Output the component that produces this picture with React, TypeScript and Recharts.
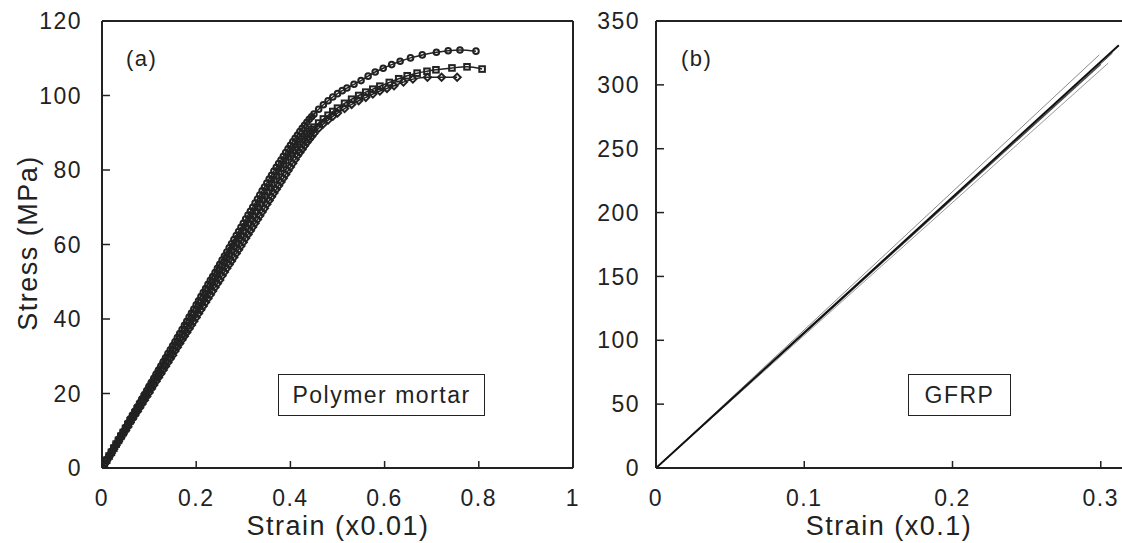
import React from 'react';
import { LineChart, Line, XAxis, YAxis, ReferenceLine } from 'recharts';

// ---- Panel (a): Polymer mortar (strain x0.01, stress MPa) ----
// dense sampling in the (nearly linear) early part, shared by the three specimens
const denseStrain = [
  0, 0.005, 0.01, 0.015, 0.02, 0.025, 0.03, 0.035, 0.04, 0.045,
  0.05, 0.055, 0.06, 0.065, 0.07, 0.075, 0.08, 0.085, 0.09, 0.095,
  0.1, 0.105, 0.11, 0.115, 0.12, 0.125, 0.13, 0.135, 0.14, 0.145,
  0.15, 0.155, 0.16, 0.165, 0.17, 0.175, 0.18, 0.185, 0.19, 0.195,
  0.2, 0.205, 0.21, 0.215, 0.22, 0.225, 0.23, 0.235, 0.24, 0.245,
  0.25, 0.255, 0.26, 0.265, 0.27, 0.275, 0.28, 0.285, 0.29, 0.295,
  0.3, 0.305, 0.31, 0.315, 0.32, 0.325, 0.33, 0.335, 0.34, 0.345,
  0.35, 0.355, 0.36, 0.365, 0.37, 0.375, 0.38, 0.385, 0.39, 0.395,
  0.4, 0.405, 0.41, 0.415, 0.42, 0.425, 0.43, 0.435, 0.44, 0.445, 0.45,
];
const circleDenseStress = [
  0, 1.1, 2.2, 3.3, 4.4, 5.5, 6.5, 7.7, 8.8, 9.8,
  10.9, 12.1, 13.2, 14.2, 15.3, 16.4, 17.5, 18.6, 19.7, 20.8,
  21.9, 23.0, 24.1, 25.2, 26.3, 27.4, 28.5, 29.6, 30.7, 31.7,
  32.8, 33.9, 35.0, 36.1, 37.2, 38.3, 39.4, 40.5, 41.6, 42.7,
  43.8, 44.9, 46.0, 47.1, 48.2, 49.3, 50.4, 51.4, 52.5, 53.6,
  54.7, 55.8, 56.9, 58.0, 59.1, 60.2, 61.3, 62.4, 63.5, 64.6,
  65.7, 66.8, 67.9, 68.9, 70.0, 71.1, 72.2, 73.3, 74.4, 75.4,
  76.5, 77.6, 78.6, 79.7, 80.7, 81.7, 82.7, 83.7, 84.7, 85.7,
  86.6, 87.6, 88.5, 89.4, 90.3, 91.2, 92.0, 92.8, 93.6, 94.3, 95.0,
];
const squareDenseStress = [
  0, 1.0, 2.1, 3.2, 4.2, 5.3, 6.4, 7.4, 8.5, 9.5,
  10.6, 11.7, 12.7, 13.8, 14.8, 15.9, 17.0, 18.0, 19.1, 20.1,
  21.2, 22.3, 23.3, 24.4, 25.4, 26.5, 27.6, 28.6, 29.7, 30.7,
  31.8, 32.9, 33.9, 35.0, 36.0, 37.1, 38.2, 39.2, 40.3, 41.3,
  42.4, 43.5, 44.5, 45.6, 46.6, 47.7, 48.8, 49.8, 50.9, 51.9,
  53.0, 54.1, 55.1, 56.2, 57.2, 58.3, 59.4, 60.4, 61.5, 62.5,
  63.6, 64.7, 65.7, 66.8, 67.8, 68.9, 70.0, 71.0, 72.1, 73.1,
  74.2, 75.3, 76.3, 77.4, 78.4, 79.5, 80.5, 81.5, 82.5, 83.5,
  84.4, 85.3, 86.1, 86.9, 87.6, 88.3, 89.0, 89.7, 90.3, 90.9, 91.5,
];
const diamondDenseStress = [
  0, 1.0, 2.0, 3.0, 4.0, 5.1, 6.1, 7.1, 8.1, 9.1,
  10.1, 11.1, 12.2, 13.2, 14.2, 15.2, 16.2, 17.2, 18.2, 19.2,
  20.2, 21.3, 22.3, 23.3, 24.3, 25.3, 26.3, 27.3, 28.3, 29.3,
  30.3, 31.4, 32.4, 33.4, 34.4, 35.4, 36.4, 37.4, 38.4, 39.4,
  40.4, 41.5, 42.5, 43.5, 44.5, 45.5, 46.5, 47.5, 48.5, 49.5,
  50.5, 51.6, 52.6, 53.6, 54.6, 55.6, 56.6, 57.6, 58.6, 59.6,
  60.6, 61.7, 62.7, 63.7, 64.7, 65.7, 66.7, 67.7, 68.7, 69.7,
  70.8, 71.8, 72.8, 73.8, 74.8, 75.8, 76.8, 77.8, 78.8, 79.8,
  80.8, 81.8, 82.8, 83.8, 84.7, 85.6, 86.5, 87.4, 88.2, 89.0, 89.8,
];

// sparser sampling after the knee
const circleTailStrain = [0.46, 0.47, 0.48, 0.49, 0.5, 0.51, 0.52, 0.535, 0.55, 0.565, 0.58, 0.597, 0.615, 0.633, 0.655, 0.68, 0.71, 0.735, 0.76, 0.794];
const circleTailStress = [96.3, 97.5, 98.6, 99.6, 100.5, 101.3, 102.0, 103.0, 104.0, 105.2, 106.3, 107.3, 108.3, 109.2, 110.1, 110.9, 111.6, 112.0, 112.2, 111.9];
const squareTailStrain = [0.46, 0.47, 0.48, 0.49, 0.5, 0.515, 0.53, 0.545, 0.56, 0.575, 0.59, 0.61, 0.63, 0.648, 0.669, 0.69, 0.709, 0.743, 0.775, 0.807];
const squareTailStress = [92.6, 93.7, 94.7, 95.7, 96.6, 97.9, 99.0, 100.0, 100.9, 101.7, 102.5, 103.5, 104.5, 105.3, 106.0, 106.5, 106.9, 107.4, 107.7, 107.1];
const diamondTailStrain = [0.46, 0.47, 0.48, 0.49, 0.5, 0.515, 0.53, 0.545, 0.56, 0.575, 0.59, 0.605, 0.62, 0.64, 0.66, 0.691, 0.721, 0.754];
const diamondTailStress = [91.2, 92.4, 93.4, 94.4, 95.3, 96.5, 97.6, 98.6, 99.5, 100.4, 101.2, 101.9, 102.6, 103.6, 104.4, 104.9, 104.9, 104.9];

const aStrainTicks = [0, 0.2, 0.4, 0.6, 0.8, 1];
const aStressTicks = [0, 20, 40, 60, 80, 100, 120];

// ---- Panel (b): GFRP (strain x0.1, stress MPa) ----
const gfrp1Strain = [0, 0.3122];
const gfrp1Stress = [0, 331];
const gfrp2Strain = [0, 0.299];
const gfrp2Stress = [0, 323.5];
const gfrp3Strain = [0, 0.305];
const gfrp3Stress = [0, 317];
const gfrp4Strain = [0, 0.3];
const gfrp4Stress = [0, 316];
const gfrp5Strain = [0, 0.308];
const gfrp5Stress = [0, 325];

const bStrainTicks = [0, 0.1, 0.2, 0.3];
const bStressTicks = [0, 50, 100, 150, 200, 250, 300, 350];

const zip = (xs: number[], ys: number[]) => xs.map((x, i) => ({ x, y: ys[i] }));

const circleData = [...zip(denseStrain, circleDenseStress), ...zip(circleTailStrain, circleTailStress)];
const squareData = [...zip(denseStrain, squareDenseStress), ...zip(squareTailStrain, squareTailStress)];
const diamondData = [...zip(denseStrain, diamondDenseStress), ...zip(diamondTailStrain, diamondTailStress)];
const gfrp = [
  { data: zip(gfrp4Strain, gfrp4Stress), color: '#444', w: 1.2 },
  { data: zip(gfrp5Strain, gfrp5Stress), color: '#555', w: 1 },
  { data: zip(gfrp2Strain, gfrp2Stress), color: '#8a8a8a', w: 1 },
  { data: zip(gfrp3Strain, gfrp3Stress), color: '#9a9a9a', w: 1 },
  { data: zip(gfrp1Strain, gfrp1Stress), color: '#111', w: 2 },
];

const FONT = "'Liberation Sans', Arial, Helvetica, sans-serif";
const INK = '#222';
const MK = 2.0;

const CircleDot = (p: any) => {
  const { cx, cy, index } = p;
  if (cx == null || cy == null) return <g key={`c${index}`} />;
  return <circle key={`c${index}`} cx={cx} cy={cy} r={2.8} fill="none" stroke={INK} strokeWidth={MK} />;
};
const SquareDot = (p: any) => {
  const { cx, cy, index } = p;
  if (cx == null || cy == null) return <g key={`s${index}`} />;
  return <rect key={`s${index}`} x={cx - 2.8} y={cy - 2.8} width={5.6} height={5.6} fill="none" stroke={INK} strokeWidth={MK} />;
};
const DiamondDot = (p: any) => {
  const { cx, cy, index } = p;
  if (cx == null || cy == null) return <g key={`d${index}`} />;
  const r = 3.6;
  return (
    <polygon
      key={`d${index}`}
      points={`${cx},${cy - r} ${cx + r},${cy} ${cx},${cy + r} ${cx - r},${cy}`}
      fill="none"
      stroke={INK}
      strokeWidth={MK}
    />
  );
};

const axisLine = { stroke: INK, strokeWidth: 2 };
const tickLine = { stroke: INK, strokeWidth: 1.5 };
const tickStyle = { fontSize: 23, fill: INK, fontFamily: FONT };

const textStyle: React.CSSProperties = {
  position: 'absolute',
  fontFamily: FONT,
  color: INK,
  letterSpacing: '1.5px',
  whiteSpace: 'nowrap',
  lineHeight: 1,
};

export default function App() {
  return (
    <div style={{ position: 'absolute', left: 0, top: 0, width: 1122, height: 543, overflow: 'hidden', background: '#fff' }}>
      <style>{`.chartwrap text { letter-spacing: 1.5px; }`}</style>
      <div className="chartwrap" style={{ position: 'absolute', left: 0, top: 0 }}>
        <LineChart width={600} height={543} margin={{ top: 21, right: 27, bottom: 35, left: 42 }}>
          <XAxis
            type="number"
            dataKey="x"
            domain={[0, 1]}
            ticks={aStrainTicks}
            allowDataOverflow
            height={40}
            tickSize={-7}
            tickMargin={29}
            axisLine={axisLine}
            tickLine={tickLine}
            tick={tickStyle}
          />
          <YAxis
            type="number"
            dataKey="y"
            domain={[0, 120]}
            ticks={aStressTicks}
            allowDataOverflow
            width={60}
            tickSize={-8}
            tickMargin={28}
            axisLine={axisLine}
            tickLine={tickLine}
            tick={tickStyle}
          />
          <ReferenceLine y={120} stroke={INK} strokeWidth={2} />
          <ReferenceLine x={1} stroke={INK} strokeWidth={2} />
          <Line data={diamondData} dataKey="y" type="monotone" stroke={INK} strokeWidth={1.5} dot={DiamondDot} activeDot={false} isAnimationActive={false} />
          <Line data={squareData} dataKey="y" type="monotone" stroke={INK} strokeWidth={1.5} dot={SquareDot} activeDot={false} isAnimationActive={false} />
          <Line data={circleData} dataKey="y" type="monotone" stroke={INK} strokeWidth={1.5} dot={CircleDot} activeDot={false} isAnimationActive={false} />
        </LineChart>
      </div>
      <div className="chartwrap" style={{ position: 'absolute', left: 560, top: 0 }}>
        <LineChart width={600} height={543} margin={{ top: 21, right: 37, bottom: 35, left: 36 }}>
          <XAxis
            type="number"
            dataKey="x"
            domain={[0, 0.315]}
            ticks={bStrainTicks}
            allowDataOverflow
            height={40}
            tickSize={-7}
            tickMargin={29}
            axisLine={axisLine}
            tickLine={tickLine}
            tick={tickStyle}
          />
          <YAxis
            type="number"
            dataKey="y"
            domain={[0, 350]}
            ticks={bStressTicks}
            allowDataOverflow
            width={60}
            tickSize={-8}
            tickMargin={24}
            axisLine={axisLine}
            tickLine={tickLine}
            tick={tickStyle}
          />
          <ReferenceLine y={350} stroke={INK} strokeWidth={2} />
          {gfrp.map((g, i) => (
            <Line key={i} data={g.data} dataKey="y" type="linear" stroke={g.color} strokeWidth={g.w} dot={false} activeDot={false} isAnimationActive={false} />
          ))}
        </LineChart>
      </div>

      {/* panel letters */}
      <div style={{ ...textStyle, left: 126, top: 48, fontSize: 22 }}>(a)</div>
      <div style={{ ...textStyle, left: 681, top: 48, fontSize: 22 }}>(b)</div>

      {/* boxed labels */}
      <div style={{ ...textStyle, left: 278, top: 374, width: 205, height: 40, border: `1.5px solid ${INK}`, display: 'flex', alignItems: 'center', justifyContent: 'center', fontSize: 23 }}>
        Polymer mortar
      </div>
      <div style={{ ...textStyle, left: 908, top: 374, width: 101, height: 40, border: `1.5px solid ${INK}`, display: 'flex', alignItems: 'center', justifyContent: 'center', fontSize: 23 }}>
        GFRP
      </div>

      {/* axis titles */}
      <div style={{ ...textStyle, left: 338, top: 513, transform: 'translateX(-50%)', fontSize: 27 }}>Strain (x0.01)</div>
      <div style={{ ...textStyle, left: 889, top: 513, transform: 'translateX(-50%)', fontSize: 27 }}>Strain (x0.1)</div>
      <div style={{ ...textStyle, left: 28, top: 243, transform: 'translate(-50%, -50%) rotate(-90deg)', fontSize: 27 }}>Stress (MPa)</div>
    </div>
  );
}
